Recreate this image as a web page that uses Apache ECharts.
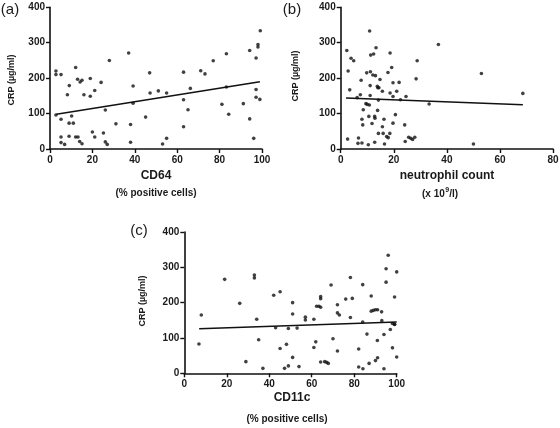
<!DOCTYPE html>
<html>
<head>
<meta charset="utf-8">
<script src="https://cdn.jsdelivr.net/npm/echarts@6/dist/echarts.min.js"></script>
<style>
html,body{margin:0;padding:0;background:#fff;}
#chart{width:560px;height:428px;}
</style>
</head>
<body>
<div id="chart"></div>
<script>
// ---- Data ----
// Panel (a): CD64 (% positive cells) vs CRP
const cd64 = [2.8,2.8,5.2,2.8,5.2,5.2,5.2,6.9,8.2,9.1,9,9,10.2,11,12.1,12.1,13,13.2,14.2,15.1,14,15.1,16,19,19,20,21.1,21.1,24.1,25.2,26.1,26.1,27,28,31.1,37.1,38,38,39.2,39.2,45.1,47,47.2,51.1,53.1,55,55,63,63,63,65.1,66.2,71.1,73.1,77,81.1,83.2,83.2,84.3,91.2,94.2,94.2,96.1,97.2,97.2,97.2,98.1,98.1,99,99.2];
const crpA = [220,210,210,96,84,34,18,13,153,179,73,36,93,73,230,34,197,34,189,194,21,15,153,199,149,48,165,34,188,45,110,20,13,250,71,271,69,19,178,129,90,215,158,164,14,30,158,217,139,63,111,171,221,212,249,126,269,175,98,128,85,278,30,257,168,146,295,288,140,334];
const fitAX = [3, 99];
const fitAY = [98, 190];

// Panel (b): neutrophil count (x 10^9/l) vs CRP
const neut = [2.3,2.8,2.6,3.4,3.9,4.9,6.2,6.7,6.5,7.4,7.7,8,8,8.3,8.5,9.5,9.8,10,10.4,10.8,10.9,11.1,11.3,11.2,10.6,11.1,11.8,12.1,12.4,13.1,12.8,12.9,12.8,13.3,13.8,14,14.4,13.9,14.2,14.2,14.8,15.7,15.7,16,16.3,16.5,17.3,17.8,17.9,18.5,18.6,18.6,19.2,19.7,19.7,19.7,20.6,21.1,22,22.5,24.1,24.6,24.3,25.6,26.4,27.1,27.9,28.4,28.8,33.3,36.8,50,53,68.6];
const crpB = [278,220,28,167,256,249,145,31,16,153,194,17,84,68,111,128,215,126,12,124,333,179,265,218,92,151,72,209,268,207,92,87,19,286,177,173,173,109,138,44,196,163,63,44,84,14,35,216,32,44,158,271,230,187,148,73,97,163,188,139,68,148,21,33,30,27,33,198,249,127,295,14,213,157];
const fitBX = [2, 68.6];
const fitBY = [144, 125];

// Panel (c): CD11c (% positive cells) vs CRP
const cd11c = [6.9,8,19,26.1,29,33,33,34.1,35,37,42.1,43,45.1,45.1,47.2,48.1,49,49,51,51,51,53.1,54,57,57,61,61,61.9,62.3,63.4,64.2,64.2,64.2,64.2,66.1,67,67.8,69.1,70,72.1,72.1,73,72.1,76,78.2,78.2,79.1,82.1,82.1,84,84,84.1,86,87,88,88,89,90,91,90,90.9,91,92.9,93,94,94,95,95,96,97,98,98,99,99,99,100,100];
const crpC = [83,165,266,198,33,278,270,153,95,14,221,129,231,70,14,82,127,21,200,168,45,128,19,159,151,153,73,89,190,190,187,217,211,32,33,31,28,250,98,194,171,165,63,210,271,158,212,69,18,251,145,13,111,28,219,176,178,180,180,36,93,44,174,149,13,110,258,296,334,124,72,141,139,216,138,287,46];
const fitCX = [7, 100];
const fitCY = [126, 145];

// Axis ranges / ticks
const yTicks = {min: 0, max: 400, interval: 100};
const xTicksA = {min: 0, max: 100, interval: 20};
const xTicksB = {min: 0, max: 80, interval: 20};
const xTicksC = {min: 0, max: 100, interval: 20};

// Text
const panelLabels = ['(a)', '(b)', '(c)'];
const yName = 'CRP (\u00b5g/ml)';
const xNames = ['CD64', 'neutrophil count', 'CD11c'];
const xUnits = ['(% positive cells)', '{n|(x 10}{s|9}{n|/l)}', '(% positive cells)'];

// ---- Build chart ----
function zip(xs, ys) { return xs.map((x, i) => [x, ys[i]]); }

const FONT = '"Liberation Sans", Arial, sans-serif';
const INK = '#1a1a1a';
const AXC = '#111';

const grids = [
  {left: 50, top: 7.3, width: 212, height: 141.7},
  {left: 340.7, top: 7.3, width: 212.4, height: 141.7},
  {left: 184.3, top: 232, width: 212.4, height: 141.3}
].map(g => Object.assign({containLabel: false, outerBoundsMode: 'none'}, g));

function xAxis(idx, t) {
  return {
    type: 'value', gridIndex: idx, min: t.min, max: t.max, interval: t.interval,
    axisLine: {show: true, onZero: false, lineStyle: {color: AXC, width: 1.6}},
    axisTick: {show: true, length: 4, lineStyle: {color: AXC, width: 1.4}},
    axisLabel: {color: INK, fontSize: 10, fontWeight: 'bold', fontFamily: FONT, margin: 6},
    splitLine: {show: false}
  };
}
function yAxis(idx) {
  return {
    type: 'value', gridIndex: idx, min: yTicks.min, max: yTicks.max, interval: yTicks.interval,
    axisLine: {show: true, onZero: false, lineStyle: {color: AXC, width: 1.6}},
    axisTick: {show: true, length: 4, lineStyle: {color: AXC, width: 1.4}},
    axisLabel: {color: INK, fontSize: 10, fontWeight: 'bold', fontFamily: FONT, margin: 5},
    splitLine: {show: false}
  };
}
function scatter(idx, xs, ys) {
  return {
    type: 'scatter', xAxisIndex: idx, yAxisIndex: idx, data: zip(xs, ys),
    symbol: 'circle', symbolSize: 3.6, itemStyle: {color: '#111'}, silent: true
  };
}
function fit(idx, xs, ys) {
  return {
    type: 'line', xAxisIndex: idx, yAxisIndex: idx, data: zip(xs, ys),
    showSymbol: false, symbol: 'none', lineStyle: {color: '#111', width: 1.5}, silent: true
  };
}

function txt(x, y, text, size, weight, rot) {
  return {
    type: 'text', x: x, y: y, rotation: rot || 0, silent: true,
    style: {text: text, fontSize: size, fontWeight: weight, fontFamily: FONT,
            fill: INK, align: 'center', verticalAlign: 'middle',
            rich: {
              n: {fontSize: size, fontWeight: weight, fontFamily: FONT, fill: INK, lineHeight: 13, verticalAlign: 'bottom'},
              s: {fontSize: 7, fontWeight: weight, fontFamily: FONT, fill: INK, lineHeight: 13, verticalAlign: 'top', padding: [0, 0, 0, 0.5]}
            }}
  };
}

const R = Math.PI / 2;
const graphics = [
  txt(10, 10, panelLabels[0], 15, 'normal'),
  txt(292, 10, panelLabels[1], 15, 'normal'),
  txt(139, 231, panelLabels[2], 15, 'normal'),
  txt(12, 80, yName, 9, 'bold', R),
  txt(296, 76, yName, 9, 'bold', R),
  txt(143, 301, yName, 9, 'bold', R),
  txt(156, 176, xNames[0], 12, 'bold'),
  txt(156, 193, xUnits[0], 10, 'bold'),
  txt(447, 176, xNames[1], 12, 'bold'),
  txt(440, 193, xUnits[1], 10, 'bold'),
  txt(292, 398, xNames[2], 12, 'bold'),
  txt(287, 419, xUnits[2], 10, 'bold')
];

const chart = echarts.init(document.getElementById('chart'), null, {renderer: 'canvas'});
chart.setOption({
  animation: false,
  backgroundColor: '#fff',
  grid: grids,
  xAxis: [xAxis(0, xTicksA), xAxis(1, xTicksB), xAxis(2, xTicksC)],
  yAxis: [yAxis(0), yAxis(1), yAxis(2)],
  series: [
    scatter(0, cd64, crpA), fit(0, fitAX, fitAY),
    scatter(1, neut, crpB), fit(1, fitBX, fitBY),
    scatter(2, cd11c, crpC), fit(2, fitCX, fitCY)
  ],
  graphic: graphics
});
</script>
</body>
</html>
